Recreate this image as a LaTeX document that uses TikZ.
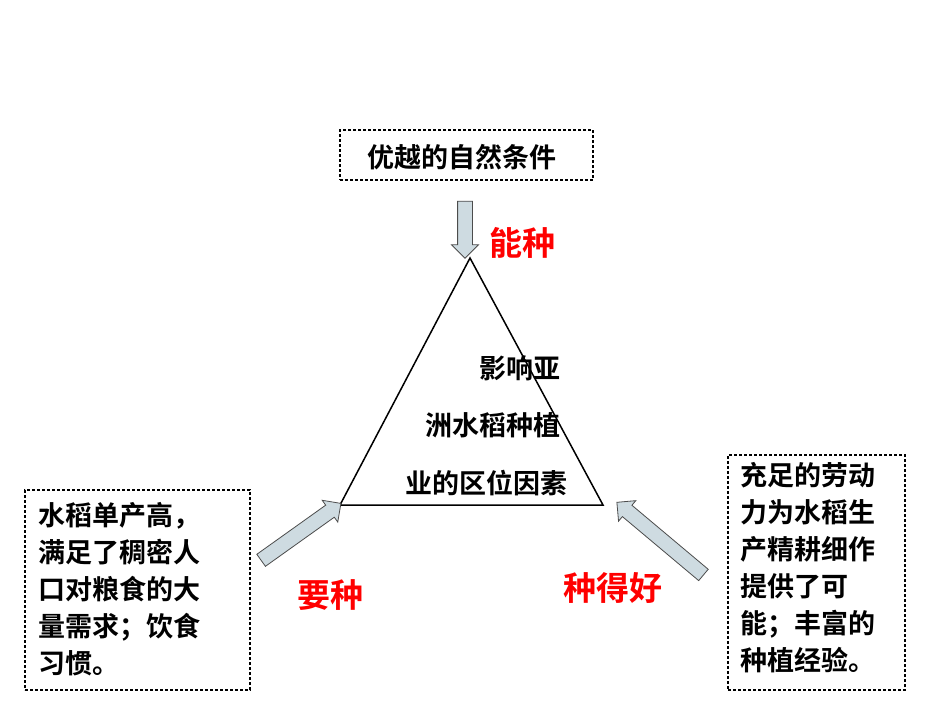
\documentclass[tikz,border=0pt]{standalone}
\usepackage{fontspec}
\newfontfamily\cjk{Noto Sans CJK SC}[BoldFont={Noto Sans CJK SC Bold}]
\usetikzlibrary{shapes.arrows}
\begin{document}
\begin{tikzpicture}[x=1pt,y=-1pt,
  dbox/.style={draw,densely dashed,line width=1.3pt},
  txt/.style={font=\cjk\bfseries\fontsize{27}{37}\selectfont,inner sep=0pt},
  red/.style={font=\cjk\bfseries\fontsize{33}{36}\selectfont,text=red,inner sep=0pt},
  barrow/.style={single arrow,draw=black!70,fill=cyan!25!gray!35,line width=0.8pt,inner sep=7pt,single arrow head extend=6pt,minimum height=#1}]
\useasboundingbox (0,0) rectangle (950,713);
\fill[white] (0,0) rectangle (950,713);
\node[dbox,minimum width=253pt,minimum height=50pt] (top) at (466.5,155) {};
\node[txt] (toptxt) at (462,157) {优越的自然条件};
\node[barrow=57pt,rotate=-90] (a1) at (465,226) {};
\node[red] (r1) at (522,243) {能种};
\draw[line width=1.5pt] (470,258) coordinate (ap) -- (340,505) coordinate (bl) -- (603,505) coordinate (br) -- cycle;
\node[txt,anchor=east] (t1) at (561,368) {影响亚};
\node[txt,anchor=east] (t2) at (561,425) {洲水稻种植};
\node[txt,anchor=east] (t3) at (568,483) {业的区位因素};
\node[dbox,minimum width=225pt,minimum height=200pt] (lb) at (137.5,590) {};
\node[txt,anchor=north west,align=left,text width=220pt] (lt) at (38,502) {水稻单产高，\\满足了稠密人\\口对粮食的大\\量需求；饮食\\习惯。};
\node[barrow=98pt,rotate=35.5] (a2) at (298,534) {};
\node[red] (r2) at (330,595) {要种};
\node[dbox,minimum width=177pt,minimum height=235pt] (rb) at (816.5,572.5) {};
\node[txt,anchor=north west,align=left,text width=170pt] (rt) at (740,462) {充足的劳动\\力为水稻生\\产精耕细作\\提供了可\\能；丰富的\\种植经验。};
\node[barrow=113pt,rotate=140] (a3) at (663,541) {};
\node[red] (r3) at (613,588) {种得好};
\end{tikzpicture}
\end{document}
